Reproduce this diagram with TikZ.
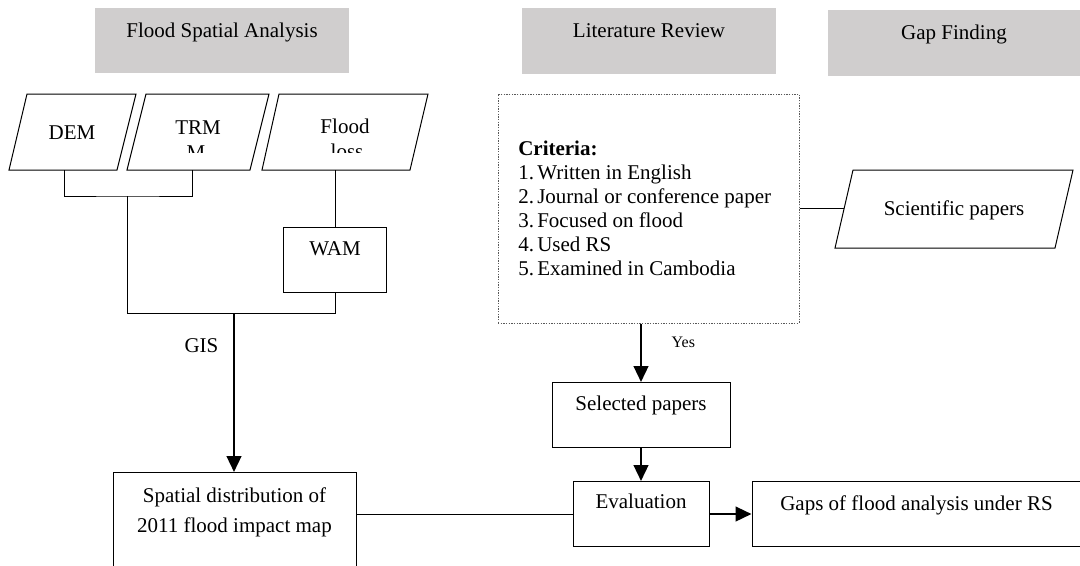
\documentclass[tikz,border=0pt]{standalone}
\usepackage{fontspec}
\setmainfont{Liberation Serif}
\usetikzlibrary{arrows.meta}
\newdimen\px
\px=0.75pt
\definecolor{headgray}{HTML}{D0CECE}

\begin{document}
\begin{tikzpicture}[x=0.75pt,y=-0.75pt,
    every node/.style={font=\fontsize{15.75}{18}\selectfont},
    conn/.style={draw=black,line width=0.75pt},
    flowarrow/.style={draw=black,line width=1.8pt,-{Triangle[length=12pt,width=11pt]}},
    box/.style={draw=black,line width=0.75pt,inner sep=0pt,anchor=north,text height=28\px,text depth=37\px},
    critbox/.style={draw=gray!70!black,dash pattern=on 1pt off 1pt,line width=0.75pt,inner sep=0pt}]
    \useasboundingbox (0,0) rectangle (1080,565);

    %Headers
        \fill[headgray] (95,8) rectangle (349,73);
        \fill[headgray] (522,8) rectangle (776,74);
        \fill[headgray] (828,10) rectangle (1085,76);
        \node[anchor=base] (fsa) at (222,37) {Flood Spatial Analysis};
        \node[anchor=base] (litrev) at (649,37) {Literature Review};
        \node[anchor=base] (gapfind) at (954,39) {Gap Finding};

    %Inputs
        \draw[conn] (27,94)--(136,94)--(117,170)--(9,170)--cycle;
        \draw[conn] (146,94)--(269,94)--(250,170)--(127,170)--cycle;
        \draw[conn] (279,94)--(428,94)--(410,170)--(262,170)--cycle;
        \draw[conn] (853,170)--(1073,170)--(1055,248)--(835,248)--cycle;
        \node[anchor=base] (dem) at (72,139) {DEM};
        \node[anchor=base] (trmm) at (198,134) {TRM};
        \node[anchor=base] (floss) at (345,133) {Flood};
        \node[anchor=base] (sci) at (954,215) {Scientific papers};
        \begin{scope}
            \clip (120,100) rectangle (420,152);
            \node[anchor=base] (trmmb) at (196,159) {M};
            \node[anchor=base] (flossb) at (347,158) {loss};
        \end{scope}
        \coordinate (dem-b) at (64,170);
        \coordinate (trmm-b) at (192,170);
        \coordinate (floss-b) at (335,170);
        \coordinate (sci-w) at (844,208.5);
        \coordinate (top-join) at (127,196);
        \coordinate (low-join) at (127,313);
        \coordinate (gis-top) at (234,313);

    %Boxes
        \node[box,minimum width=103\px] (wam) at (335,227) {WAM};
        \node[box,text height=30\px,text depth=98\px] (spatial) at (234.5,472)
            {\parbox[t]{243\px}{\centering\baselineskip=22.5pt Spatial distribution of\\2011 flood impact map}};
        \node[critbox,minimum width=301\px,minimum height=229\px] (crit) at (648.5,208.5) {};
        \node[anchor=base west,inner sep=0pt] (critlist) at (518,155)
            {\begin{tabular}[t]{@{}l@{}}
                \textbf{Criteria:}\\
                \makebox[14.25pt][l]{1.}Written in English\\
                \makebox[14.25pt][l]{2.}Journal or conference paper\\
                \makebox[14.25pt][l]{3.}Focused on flood\\
                \makebox[14.25pt][l]{4.}Used RS\\
                \makebox[14.25pt][l]{5.}Examined in Cambodia
            \end{tabular}};
        \node[box,minimum width=178\px] (sel) at (641,382) {Selected papers};
        \node[box,minimum width=136\px,text height=27\px,text depth=38\px] (eval) at (641,481) {Evaluation};
        \node[box,minimum width=329\px,text height=29\px,text depth=36\px] (gaps) at (916.5,481) {Gaps of flood analysis under RS};

    %Lines
        \draw[conn] (dem-b) |- (top-join) -| (trmm-b);
        \draw[conn] (top-join) -- (low-join) -| (wam.south);
        \draw[conn] (floss-b) -- (wam.north);
        \draw[flowarrow] (gis-top) -- (gis-top |- spatial.north);
        \draw[conn] (crit.east) -- (sci-w);
        \draw[flowarrow] (crit.south -| sel.north) -- (sel.north);
        \draw[flowarrow] (sel.south) -- (eval.north);
        \draw[conn] (eval.west) -- (eval.west -| spatial.east);
        \draw[flowarrow] (eval.east) -- (gaps.west);

    %Labels
        \node[anchor=base] (gis) at (201.5,352) {GIS};
        \node[anchor=west,font=\fontsize{12}{14}\selectfont] (yes) at (667,342) {Yes};

    \end{tikzpicture}
\end{document}
